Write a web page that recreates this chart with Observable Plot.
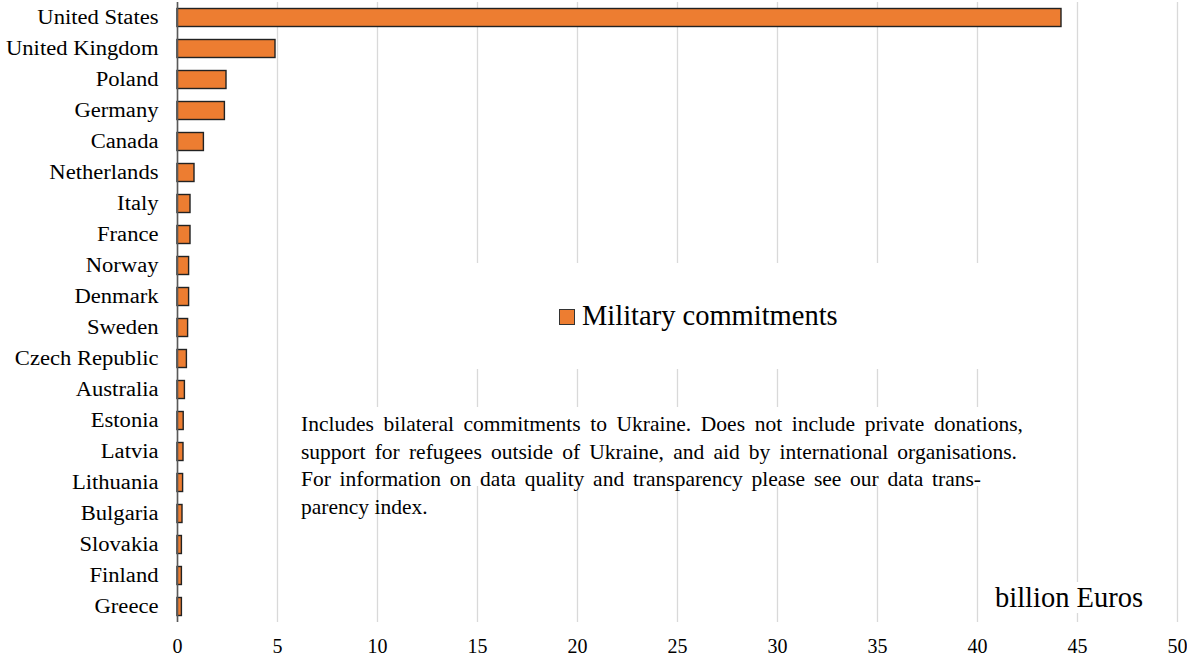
<!DOCTYPE html>
<html>
<head>
<meta charset="utf-8">
<script src="https://cdn.jsdelivr.net/npm/d3@7"></script>
<script src="https://cdn.jsdelivr.net/npm/@observablehq/plot@0.6"></script>
<style>
  html, body { margin: 0; padding: 0; background: #fff; }
  #wrap { position: relative; width: 1187px; height: 659px; font-family: "Liberation Serif", "Times New Roman", serif; }
  #wrap svg { display: block; }
  .ov { position: absolute; color: #000; white-space: nowrap; }
  .jl { display: block; text-align: justify; text-align-last: justify; white-space: normal; }
</style>
</head>
<body>
<div id="wrap"></div>
<script>
const countries = ["United States","United Kingdom","Poland","Germany","Canada","Netherlands","Italy","France","Norway","Denmark","Sweden","Czech Republic","Australia","Estonia","Latvia","Lithuania","Bulgaria","Slovakia","Finland","Greece"];
const military = [44.2, 4.9, 2.45, 2.37, 1.32, 0.85, 0.65, 0.65, 0.58, 0.58, 0.53, 0.47, 0.37, 0.31, 0.3, 0.28, 0.25, 0.22, 0.22, 0.22];
const xTicks = [0,5,10,15,20,25,30,35,40,45,50];
const legendLabel = "Military commitments";
const unitLabel = "billion Euros";
const noteLines = [
  "Includes bilateral commitments to Ukraine. Does not include private donations,",
  "support for refugees outside of Ukraine, and aid by international organisations.",
  "For information on data quality and transparency please see our data trans-",
  "parency index."
];

const data = countries.map((c, i) => ({country: c, value: military[i]}));
const orange = "#ED7D31";

const chart = Plot.plot({
  width: 1187,
  height: 659,
  marginLeft: 177,
  marginRight: 10,
  marginTop: 2,
  marginBottom: 37,
  style: {fontFamily: "'Liberation Serif', 'Times New Roman', serif", fontSize: "20px", background: "#fff"},
  x: {domain: [0, 50], ticks: xTicks, label: null, axis: null},
  y: {domain: countries, padding: 0, label: null, axis: null},
  marks: [
    Plot.gridX(xTicks, {stroke: "#d9d9d9", strokeOpacity: 1, strokeWidth: 1.3}),
    Plot.barX(data, {x: "value", y: "country", fill: orange, stroke: "#222", strokeWidth: 1.4, insetTop: 6.5, insetBottom: 6.5}),
    Plot.ruleX([0], {stroke: "#595959", strokeWidth: 1.6}),
    Plot.axisX({ticks: xTicks, tickSize: 0, tickPadding: 16, line: true, stroke: "#595959", strokeWidth: 1.6, fill: "#000", fontSize: 20, label: null}),
    Plot.axisY({tickSize: 0, tickPadding: 19, fill: "#000", fontSize: 20, label: null})
  ]
});
const wrap = document.getElementById("wrap");
wrap.appendChild(chart);

// Horizontal stretch of the category labels, as in the original
chart.querySelectorAll('[aria-label="y-axis tick label"] text').forEach(t => {
  const L = t.getComputedTextLength();
  t.setAttribute("textLength", (L * 1.13).toFixed(1));
  t.setAttribute("lengthAdjust", "spacingAndGlyphs");
});

function ov(html, css, cls) {
  const d = document.createElement("div");
  d.className = "ov" + (cls ? " " + cls : "");
  d.innerHTML = html;
  Object.assign(d.style, css);
  wrap.appendChild(d);
  return d;
}
// legend box
ov(`<span style="display:inline-block;width:14px;height:14px;background:${orange};border:1px solid #333;margin-right:7px;vertical-align:baseline;position:relative;top:0px"></span><span>${legendLabel}</span>`,
   {left: "460px", top: "263px", width: "540px", height: "106px", background: "#fff", fontSize: "28.5px", lineHeight: "106px", paddingLeft: "99px", boxSizing: "border-box"});
// note background (partial, as in original)
ov("", {left: "292px", top: "407px", width: "740px", height: "79px", background: "#fff"});
const noteWidths = [722, 716, 680, null];
const note = ov("", {left: "301px", top: "411px", fontSize: "21.5px", lineHeight: "27.5px", background: "transparent"});
noteLines.forEach((line, i) => {
  const s = document.createElement("span");
  s.textContent = line;
  if (noteWidths[i]) { s.className = "jl"; s.style.width = noteWidths[i] + "px"; }
  else s.style.display = "block";
  note.appendChild(s);
});
// unit label
ov(unitLabel, {left: "988px", top: "582px", width: "165px", height: "31px", background: "#fff", fontSize: "28.5px", lineHeight: "31px", paddingLeft: "7px", boxSizing: "border-box"});
</script>
</body>
</html>
